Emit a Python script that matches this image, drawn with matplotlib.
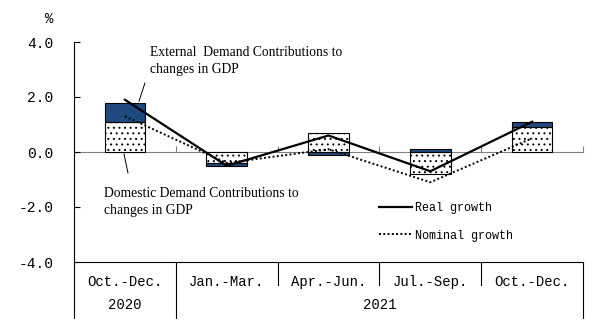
import matplotlib

matplotlib.use("Agg")
import matplotlib.pyplot as plt
import matplotlib.transforms as mtransforms
import numpy as np

# data (%)
quarters = ["Oct.-Dec.", "Jan.-Mar.", "Apr.-Jun.", "Jul.-Sep.", "Oct.-Dec."]
years = ["2020", "2021"]
year_spans = [(0, 0), (1, 4)]
domestic = [1.1, -0.4, 0.7, -0.8, 0.9]
external = [0.7, -0.1, -0.1, 0.1, 0.2]
real_growth = [1.9, -0.5, 0.6, -0.7, 1.1]
nominal_growth = [1.3, -0.4, 0.1, -1.1, 0.5]

MONO = "Liberation Mono"
SERIF = "Liberation Serif"
BLUE = "#1F4A7E"

plt.rcParams["hatch.linewidth"] = 0.7
plt.rcParams["hatch.color"] = "black"

fig = plt.figure(figsize=(6.05, 3.36), dpi=100)
ax = fig.add_axes([74 / 605, 1 - 262 / 336, 509 / 605, 220 / 336])

x = np.arange(len(quarters))
bar_w = 0.4

ax.bar(x, domestic, width=bar_w, color="white", edgecolor="black",
       linewidth=0.8, hatch="...", zorder=2)
ext_bottom = [d if d * e > 0 else 0 for d, e in zip(domestic, external)]
ax.bar(x, external, width=bar_w, bottom=ext_bottom, color=BLUE,
       edgecolor="black", linewidth=0.8, zorder=2)

ax.plot(x, real_growth, color="black", lw=1.6, zorder=4, label="Real growth")
ax.plot(x, nominal_growth, color="black", lw=1.4, ls=(0, (1, 1.2)),
        zorder=4, label="Nominal growth")

ax.set_xlim(-0.5, len(quarters) - 0.5)
ax.set_ylim(-4, 4)
yticks = [4, 2, 0, -2, -4]
ax.set_yticks(yticks)
ax.set_yticklabels([f"{v:.1f}" for v in yticks], fontfamily=MONO, fontsize=10.5)
ax.tick_params(axis="y", direction="in", length=4, pad=15, width=0.8)

# zero line acts as x axis, ticks at the category boundaries
ax.spines["bottom"].set_position(("data", 0))
ax.spines["bottom"].set_color("#808080")
ax.spines["bottom"].set_zorder(1)
ax.set_xticks(np.arange(len(quarters)) + 0.5)
ax.set_xticklabels([])
ax.tick_params(axis="x", direction="in", length=4, color="#808080")
ax.spines["top"].set_visible(False)
ax.spines["right"].set_visible(False)
ax.spines["left"].set_linewidth(0.8)

# category table below the plot
trans = mtransforms.blended_transform_factory(ax.transData, ax.transAxes)
ax.plot([-0.5, len(quarters) - 0.5], [0, 0], transform=trans,
        color="black", lw=0.8, clip_on=False)
ax.plot([-0.5, -0.5], [0, -0.255], transform=trans, color="black", lw=0.8,
        clip_on=False)
for i, q in enumerate(quarters):
    ax.text(i, -0.09, q, transform=trans, ha="center", va="center",
            fontfamily=MONO, fontsize=10)
for i in range(len(quarters)):
    right = i + 0.5
    full = any(right == end + 0.5 for _, end in year_spans)
    ax.plot([right, right], [0, -0.255 if full else -0.105], transform=trans,
            color="black", lw=0.8, clip_on=False)
for yr, (start, end) in zip(years, year_spans):
    ax.text((start + end) / 2, -0.195, yr, transform=trans, ha="center",
            va="center", fontfamily=MONO, fontsize=10)

fig.text(49 / 605, 1 - 19 / 336, "%", ha="center", va="center",
         fontfamily=MONO, fontsize=10)

# annotations
ax.text(0.25, 3.31, "External  Demand Contributions to\nchanges in GDP",
        ha="left", va="center", fontfamily=SERIF, fontsize=9.8, linespacing=1.45)
ax.plot([0.139, 0.197], [1.85, 2.51], color="black", lw=0.7)
ax.text(-0.205, -1.82, "Domestic Demand Contributions to\nchanges in GDP",
        ha="left", va="center", fontfamily=SERIF, fontsize=9.8, linespacing=1.45)
ax.plot([-0.009, 0.03], [-0.07, -0.76], color="black", lw=0.7)

ax.legend(loc="upper left", bbox_to_anchor=(0.599, 0.272), frameon=False,
          borderpad=0, borderaxespad=0, handlelength=2.8, handletextpad=0.3,
          labelspacing=1.3, prop={"family": MONO, "size": 8.5})

fig.savefig("out.png", dpi=100)
